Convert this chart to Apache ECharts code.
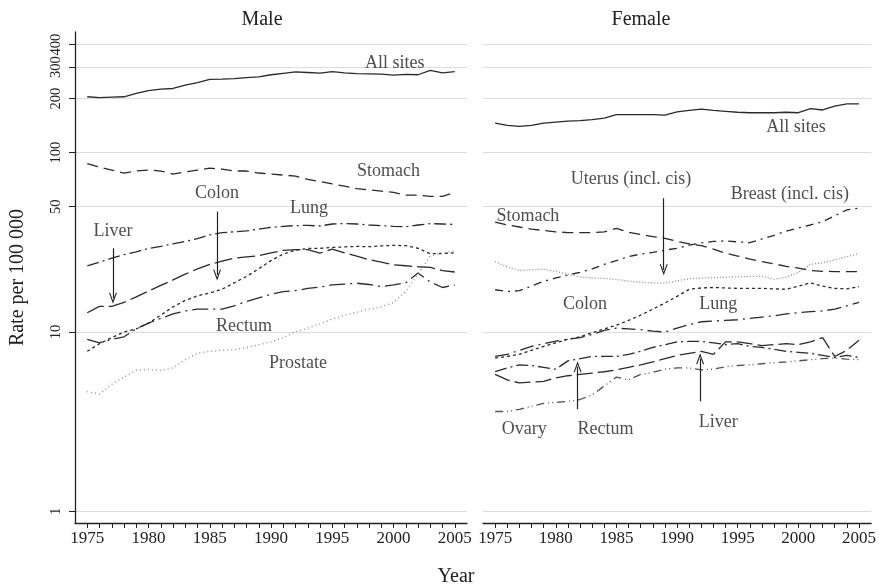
<!DOCTYPE html>
<html>
<head>
<meta charset="utf-8">
<script src="https://cdn.jsdelivr.net/npm/echarts@6/dist/echarts.min.js"></script>
<style>html,body{margin:0;padding:0;background:#fff}#c{width:879px;height:587px}</style>
</head>
<body>
<div id="c"></div>
<script>
const years = [1975,1976,1977,1978,1979,1980,1981,1982,1983,1984,1985,1986,1987,1988,1989,1990,1991,1992,1993,1994,1995,1996,1997,1998,1999,2000,2001,2002,2003,2004,2005];
const xLabelYears = [1975,1980,1985,1990,1995,2000,2005];
const yTickValues = [1,10,50,100,200,300,400];

// Male
const maleAllSites = [205,203,204,205,214,222,226,228,238,246,256,257,259,262,265,272,277,282,280,278,283,279,276,275,274,271,273,272,288,279,283];
const maleStomach = [87,83,80,77,79,80,79,76,78,80,82,81,79,79,77,76,75,74,71,69,67,65,63,62,61,60,58,58,57,57,60];
const maleLung = [23.4,24.5,25.8,27,28,29.2,30,31,32,33.2,34.8,35.8,36.2,36.6,37.5,38.3,38.8,39.2,39.3,39,40,40.3,40,39.5,39.2,38.8,38.6,39.5,40.2,40,39.8];
const maleLiver = [12.8,13.9,13.9,14.6,15.7,16.9,18.2,19.5,21,22.5,23.8,24.8,25.8,26.2,26.6,27.6,28.5,28.8,28.8,27.5,29,27.6,26.5,25.3,24.5,23.7,23.4,23.1,22.9,22.0,21.6];
const maleColon = [7.8,8.6,9.3,10,10.4,11.2,12.4,13.8,15,15.9,16.5,17.3,18.8,20.4,22.5,25,27.2,28.6,29.2,29.3,29.6,29.8,30,29.9,30.2,30.4,30.3,29.3,27.3,27.4,27.6];
const maleRectum = [9.1,8.7,9.1,9.4,10.4,11.2,11.9,12.6,13.1,13.4,13.4,13.4,14,14.8,15.5,16.2,16.8,17,17.5,17.8,18.3,18.5,18.7,18.4,17.9,18.3,18.8,21.3,19,17.7,18.3];
const maleProstate = [4.65,4.5,5.1,5.6,6.1,6.2,6.1,6.3,7.0,7.6,7.8,7.9,7.95,8.2,8.5,8.8,9.3,10,10.5,11.1,11.8,12.4,12.9,13.4,13.8,14.6,16.8,21,26.5,27.6,28.4];

// Female
const femaleAllSites = [146,142,140,142,146,148,150,151,153,156,163,163,163,163,162,169,172,175,172,170,168,167,167,167,168,167,176,173,182,187,187];
const femaleStomach = [41,39.5,38.5,37.5,36.8,36.2,35.8,35.8,35.8,36.2,37.8,36,35,34,33.3,32,31,30.3,29,27.5,26.5,25.5,24.7,24,23.2,22.7,22,21.8,21.7,21.7,21.7];
const femaleBreast = [17.2,16.8,17,18,19.2,20,20.8,21.5,22.5,23.8,25,26.3,27.2,27.8,28.6,29.3,30.5,31.4,32,32.2,31.8,31.5,33,34.6,36.5,38,39.5,41.2,44.5,48,49];
const femaleUterus = [24.7,23,22,22.2,22.4,21.8,21,20.3,20,19.9,19.6,19.2,18.9,18.8,18.7,19.3,19.8,20,20.1,20.2,20.3,20.4,20.4,19.7,20.2,21.5,23.8,24.4,25.2,26.3,27.4];
const femaleColon = [7.15,7.3,7.5,7.9,8.3,8.7,9.1,9.4,9.9,10.4,10.9,11.6,12.4,13.4,14.5,15.8,17.3,17.6,17.7,17.6,17.5,17.5,17.5,17.4,17.3,18,18.8,18,17.5,17.4,17.9];
const femaleLung = [7.3,7.5,7.9,8.3,8.6,8.9,9.1,9.3,9.7,10.2,10.5,10.4,10.3,10.1,10.0,10.5,11.0,11.4,11.5,11.6,11.7,11.9,12.1,12.3,12.6,12.8,13.0,13.1,13.4,14.0,14.6];
const femaleRectum = [6.0,6.3,6.55,6.5,6.35,6.2,6.9,7.1,7.3,7.3,7.3,7.5,7.8,8.2,8.5,8.8,8.85,8.85,8.7,8.5,8.6,8.3,8.2,8.0,7.8,7.7,7.6,7.4,7.2,7.4,7.2];
const femaleLiver = [5.8,5.4,5.2,5.25,5.3,5.55,5.7,5.8,5.9,6.0,6.15,6.35,6.55,6.8,7.1,7.4,7.6,7.8,7.5,8.8,8.8,8.6,8.4,8.5,8.6,8.5,8.8,9.3,7.3,7.9,9.0];
const femaleOvary = [3.6,3.6,3.7,3.85,4.0,4.05,4.1,4.2,4.45,5.0,5.6,5.4,5.8,5.95,6.2,6.3,6.3,6.15,6.2,6.4,6.5,6.55,6.65,6.75,6.8,6.9,7.0,7.1,7.15,7.05,7.0];

// Annotations: [text, year, rate]
const maleLabels = [['All sites',2000.1,315],['Stomach',1999.6,78.4],['Colon',1985.6,59.4],['Lung',1993.1,49],['Liver',1977.1,36.3],['Rectum',1987.8,10.7],['Prostate',1992.2,6.7]];
const maleArrows = [[1977.1,29.3,15.4],[1985.6,46.9,20.8]];
const femaleLabels = [['All sites',1999.8,138.6],['Uterus (incl. cis)',1986.2,71.1],['Breast (incl. cis)',1999.3,58.6],['Stomach',1977.7,44],['Colon',1982.4,14.3],['Lung',1993.4,14.2],['Ovary',1977.4,2.85],['Rectum',1984.1,2.85],['Liver',1993.4,3.13]];
const femaleArrows = [[1988.9,55.7,22.2],[1981.8,3.7,6.4],[1991.9,4.1,7.1]];

const FONT = '"Liberation Serif", "DejaVu Serif", serif';
const INK = '#222';
const LINE = '#2a2a2a';
const GREY = '#8a8a8a';

function pairs(arr){ return years.map((y,i)=>[y, arr[i]]); }
function lineSeries(name, arr, idx, dash, color){
  return {
    type:'line', name, xAxisIndex:idx, yAxisIndex:idx, data:pairs(arr),
    showSymbol:false, symbol:'none', silent:true,
    lineStyle:{color:color||LINE, width:1.3, type:dash||'solid'}
  };
}
const chevron = 'path://M5,0 L10,10 L8.6,10 L5,3 L1.4,10 L0,10 Z';
function annotSeries(labels, arrows, idx){
  return {
    type:'scatter', xAxisIndex:idx, yAxisIndex:idx, silent:true,
    symbol:'circle', symbolSize:1, itemStyle:{color:'rgba(0,0,0,0)'},
    data: labels.map(l=>({name:l[0], value:[l[1], l[2]]})),
    label:{show:true, position:'inside', formatter:p=>p.name, fontFamily:FONT, fontSize:18, color:INK},
    markLine:{
      silent:true, animation:false,
      symbol:['none', chevron], symbolSize:[8,11],
      lineStyle:{color:INK, width:1.2, type:'solid'},
      label:{show:false},
      data: arrows.map(a=>[{coord:[a[0],a[1]]},{coord:[a[0],a[2]]}])
    }
  };
}

function xAxisDef(idx){
  return {
    type:'value', gridIndex:idx, min:1974, max:2006,
    axisLine:{show:true, lineStyle:{color:INK, width:1.3}},
    axisTick:{show:true, customValues:years, length:5, lineStyle:{color:INK, width:1}},
    axisLabel:{show:true, customValues:xLabelYears, formatter:v=>String(v), showMinLabel:true, showMaxLabel:true, fontFamily:FONT, fontSize:17, color:INK, margin:7},
    splitLine:{show:false}
  };
}
function yAxisDef(idx, visible){
  return {
    type:'log', logBase:10, gridIndex:idx, min:0.86, max:471,
    name: visible ? 'Rate per 100 000' : '',
    nameLocation:'middle', nameGap:47, nameRotate:90,
    nameTextStyle:{fontFamily:FONT, fontSize:20, color:INK},
    axisLine:{show:visible, lineStyle:{color:INK, width:1.3}},
    axisTick:{show:visible, customValues:yTickValues, length:6, lineStyle:{color:INK, width:1}},
    axisLabel:{show:visible, customValues:yTickValues, formatter:v=>String(v), hideOverlap:false, showMinLabel:true, showMaxLabel:true, rotate:90, fontFamily:FONT, fontSize:14.5, color:INK, margin:11},
    splitLine:{show:true, lineStyle:{color:'#dcdcdc', width:1}}
  };
}

const chart = echarts.init(document.getElementById('c'), null, {renderer:'canvas'});
chart.setOption({
  animation:false,
  backgroundColor:'#fff',
  grid:[
    {left:75, top:32, width:392, height:491},
    {left:483, top:32, width:392, height:491}
  ],
  xAxis:[xAxisDef(0), xAxisDef(1)],
  yAxis:[yAxisDef(0,true), yAxisDef(1,false)],
  graphic:[
    {type:'text', x:262, y:20, style:{text:'Male', font:'20px '+FONT, fill:INK, textAlign:'center', textVerticalAlign:'middle'}},
    {type:'text', x:641, y:20, style:{text:'Female', font:'20px '+FONT, fill:INK, textAlign:'center', textVerticalAlign:'middle'}},
    {type:'text', x:456, y:577, style:{text:'Year', font:'20px '+FONT, fill:INK, textAlign:'center', textVerticalAlign:'middle'}}
  ],
  series:[
    lineSeries('All sites', maleAllSites, 0, 'solid'),
    lineSeries('Stomach', maleStomach, 0, [11,6]),
    lineSeries('Lung', maleLung, 0, [12,4,2,4]),
    lineSeries('Liver', maleLiver, 0, [18,5]),
    lineSeries('Colon', maleColon, 0, [3,3]),
    lineSeries('Rectum', maleRectum, 0, [16,5,2,5]),
    lineSeries('Prostate', maleProstate, 0, [1,3], GREY),
    annotSeries(maleLabels, maleArrows, 0),
    lineSeries('All sites', femaleAllSites, 1, 'solid'),
    lineSeries('Stomach', femaleStomach, 1, [11,6]),
    lineSeries('Breast (incl. cis)', femaleBreast, 1, [8,5,2,5]),
    lineSeries('Uterus (incl. cis)', femaleUterus, 1, [1,2], GREY),
    lineSeries('Colon', femaleColon, 1, [3,3]),
    lineSeries('Lung', femaleLung, 1, [14,5,2,5]),
    lineSeries('Rectum', femaleRectum, 1, [12,4,2,4]),
    lineSeries('Liver', femaleLiver, 1, [16,5]),
    lineSeries('Ovary', femaleOvary, 1, [8,4,1,3,1,4], '#555'),
    annotSeries(femaleLabels, femaleArrows, 1)
  ]
});
</script>
</body>
</html>
